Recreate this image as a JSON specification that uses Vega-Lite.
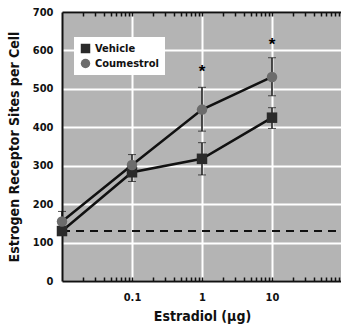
{
  "$schema": "https://vega.github.io/schema/vega-lite/v6.json",
  "width": 280,
  "height": 269,
  "autosize": {"type": "none"},
  "padding": {"left": 62, "top": 12, "right": 0, "bottom": 45},
  "background": "white",
  "config": {
    "font": "DejaVu Sans Condensed, Roboto, sans-serif",
    "view": {"fill": "#b4b4b4", "stroke": null},
    "axis": {
      "labelFont": "DejaVu Sans Condensed, Roboto, sans-serif",
      "titleFont": "DejaVu Sans Condensed, Roboto, sans-serif",
      "labelFontWeight": "bold",
      "titleFontWeight": "bold",
      "labelColor": "#111",
      "titleColor": "#111",
      "domainColor": "#111",
      "domainWidth": 2,
      "gridColor": "white",
      "gridWidth": 2
    },
    "legend": {
      "labelFont": "DejaVu Sans Condensed, Roboto, sans-serif",
      "labelFontWeight": "bold",
      "labelFontSize": 11,
      "labelColor": "#111"
    }
  },
  "datasets": {
    "means": [
      {"dose": 0.01, "group": "Vehicle", "sites": 130, "errUp": 10, "errDown": -10},
      {"dose": 0.1, "group": "Vehicle", "sites": 283, "errUp": 24, "errDown": -24},
      {"dose": 1, "group": "Vehicle", "sites": 318, "errUp": 42, "errDown": -42},
      {"dose": 10, "group": "Vehicle", "sites": 425, "errUp": 26, "errDown": -28},
      {"dose": 0.01, "group": "Coumestrol", "sites": 155, "errUp": 26, "errDown": -26},
      {"dose": 0.1, "group": "Coumestrol", "sites": 302, "errUp": 27, "errDown": -27},
      {"dose": 1, "group": "Coumestrol", "sites": 446, "errUp": 58, "errDown": -56},
      {"dose": 10, "group": "Coumestrol", "sites": 531, "errUp": 50, "errDown": -49}
    ],
    "signif": [
      {"dose": 1, "sites": 553, "star": "*"},
      {"dose": 10, "sites": 624, "star": "*"}
    ],
    "baseline": [{"sites": 130}]
  },
  "encoding": {
    "y": {
      "field": "sites", "type": "quantitative",
      "scale": {"domain": [0, 700], "nice": false},
      "axis": {
        "values": [0, 100, 200, 300, 400, 500, 600, 700],
        "title": "Estrogen Receptor Sites per Cell",
        "titleFontSize": 14,
        "titlePadding": 11,
        "labelFontSize": 11,
        "ticks": false,
        "labelPadding": 9,
        "grid": true
      }
    }
  },
  "resolve": {"axis": {"x": "independent"}},
  "layer": [
    {
      "data": {"name": "baseline"},
      "mark": {"type": "rule", "strokeDash": [8, 6], "strokeWidth": 2, "color": "#111"},
      "encoding": {
        "x": {
          "datum": 0.01, "type": "quantitative",
          "scale": {"type": "log", "domain": [0.01, 100]},
          "axis": {
            "values": [0.02, 0.03, 0.04, 0.05, 0.06, 0.07, 0.08, 0.09, 0.1, 0.2, 0.3, 0.4, 0.5, 0.6, 0.7, 0.8, 0.9, 1, 2, 3, 4, 5, 6, 7, 8, 9, 10, 20, 30, 40, 50, 60, 70, 80, 90],
            "labelExpr": "datum.value == 0.1 || datum.value == 1 || datum.value == 10 ? datum.value : ''",
            "labelOverlap": false,
            "title": "Estradiol (μg)",
            "titleFontSize": 14,
            "titlePadding": 7,
            "labelFontSize": 11,
            "labelPadding": 14,
            "tickSize": -4,
            "tickColor": "#111",
            "tickWidth": 1.5,
            "grid": true,
            "gridOpacity": {"condition": {"test": "datum.value == 0.1 || datum.value == 1 || datum.value == 10", "value": 1}, "value": 0}
          }
        },
        "x2": {"datum": 100}
      }
    },
    {
      "data": {"name": "means"},
      "mark": {"type": "line", "color": "#111", "strokeWidth": 2.5},
      "encoding": {
        "x": {
          "field": "dose", "type": "quantitative",
          "scale": {"type": "log", "domain": [0.01, 100]},
          "axis": {
            "orient": "top",
            "values": [0.02, 0.03, 0.04, 0.05, 0.06, 0.07, 0.08, 0.09, 0.1, 0.2, 0.3, 0.4, 0.5, 0.6, 0.7, 0.8, 0.9, 1, 2, 3, 4, 5, 6, 7, 8, 9, 10, 20, 30, 40, 50, 60, 70, 80, 90],
            "labels": false,
            "title": null,
            "grid": false,
            "tickSize": -4,
            "tickColor": "#111",
            "tickWidth": 1.5
          }
        },
        "detail": {"field": "group"}
      }
    },
    {
      "data": {"name": "means"},
      "mark": {"type": "errorbar", "ticks": {"size": 8, "color": "#111", "strokeWidth": 1.5}, "rule": {"color": "#111", "strokeWidth": 1.5}},
      "encoding": {
        "x": {"field": "dose", "type": "quantitative", "axis": null},
        "yError": {"field": "errUp"},
        "yError2": {"field": "errDown"}
      }
    },
    {
      "data": {"name": "means"},
      "mark": {"type": "point", "filled": true, "size": 110, "opacity": 1},
      "encoding": {
        "x": {"field": "dose", "type": "quantitative", "axis": null},
        "shape": {
          "field": "group", "type": "nominal",
          "scale": {"domain": ["Vehicle", "Coumestrol"], "range": ["square", "circle"]},
          "legend": {
            "title": null,
            "orient": "none",
            "legendX": 12,
            "legendY": 25,
            "fillColor": "white",
            "padding": 6,
            "symbolSize": 90,
            "rowPadding": 3
          }
        },
        "color": {
          "field": "group", "type": "nominal",
          "scale": {"domain": ["Vehicle", "Coumestrol"], "range": ["#2a2a2a", "#6c6c6c"]},
          "legend": {
            "title": null,
            "orient": "none",
            "legendX": 12,
            "legendY": 25,
            "fillColor": "white",
            "padding": 6,
            "symbolSize": 90,
            "rowPadding": 3
          }
        }
      }
    },
    {
      "data": {"name": "signif"},
      "mark": {"type": "text", "font": "Liberation Sans", "fontSize": 17, "fontWeight": "bold", "fill": "black", "baseline": "middle", "dy": 4},
      "encoding": {
        "x": {"field": "dose", "type": "quantitative", "axis": null},
        "text": {"field": "star"}
      }
    }
  ]
}
